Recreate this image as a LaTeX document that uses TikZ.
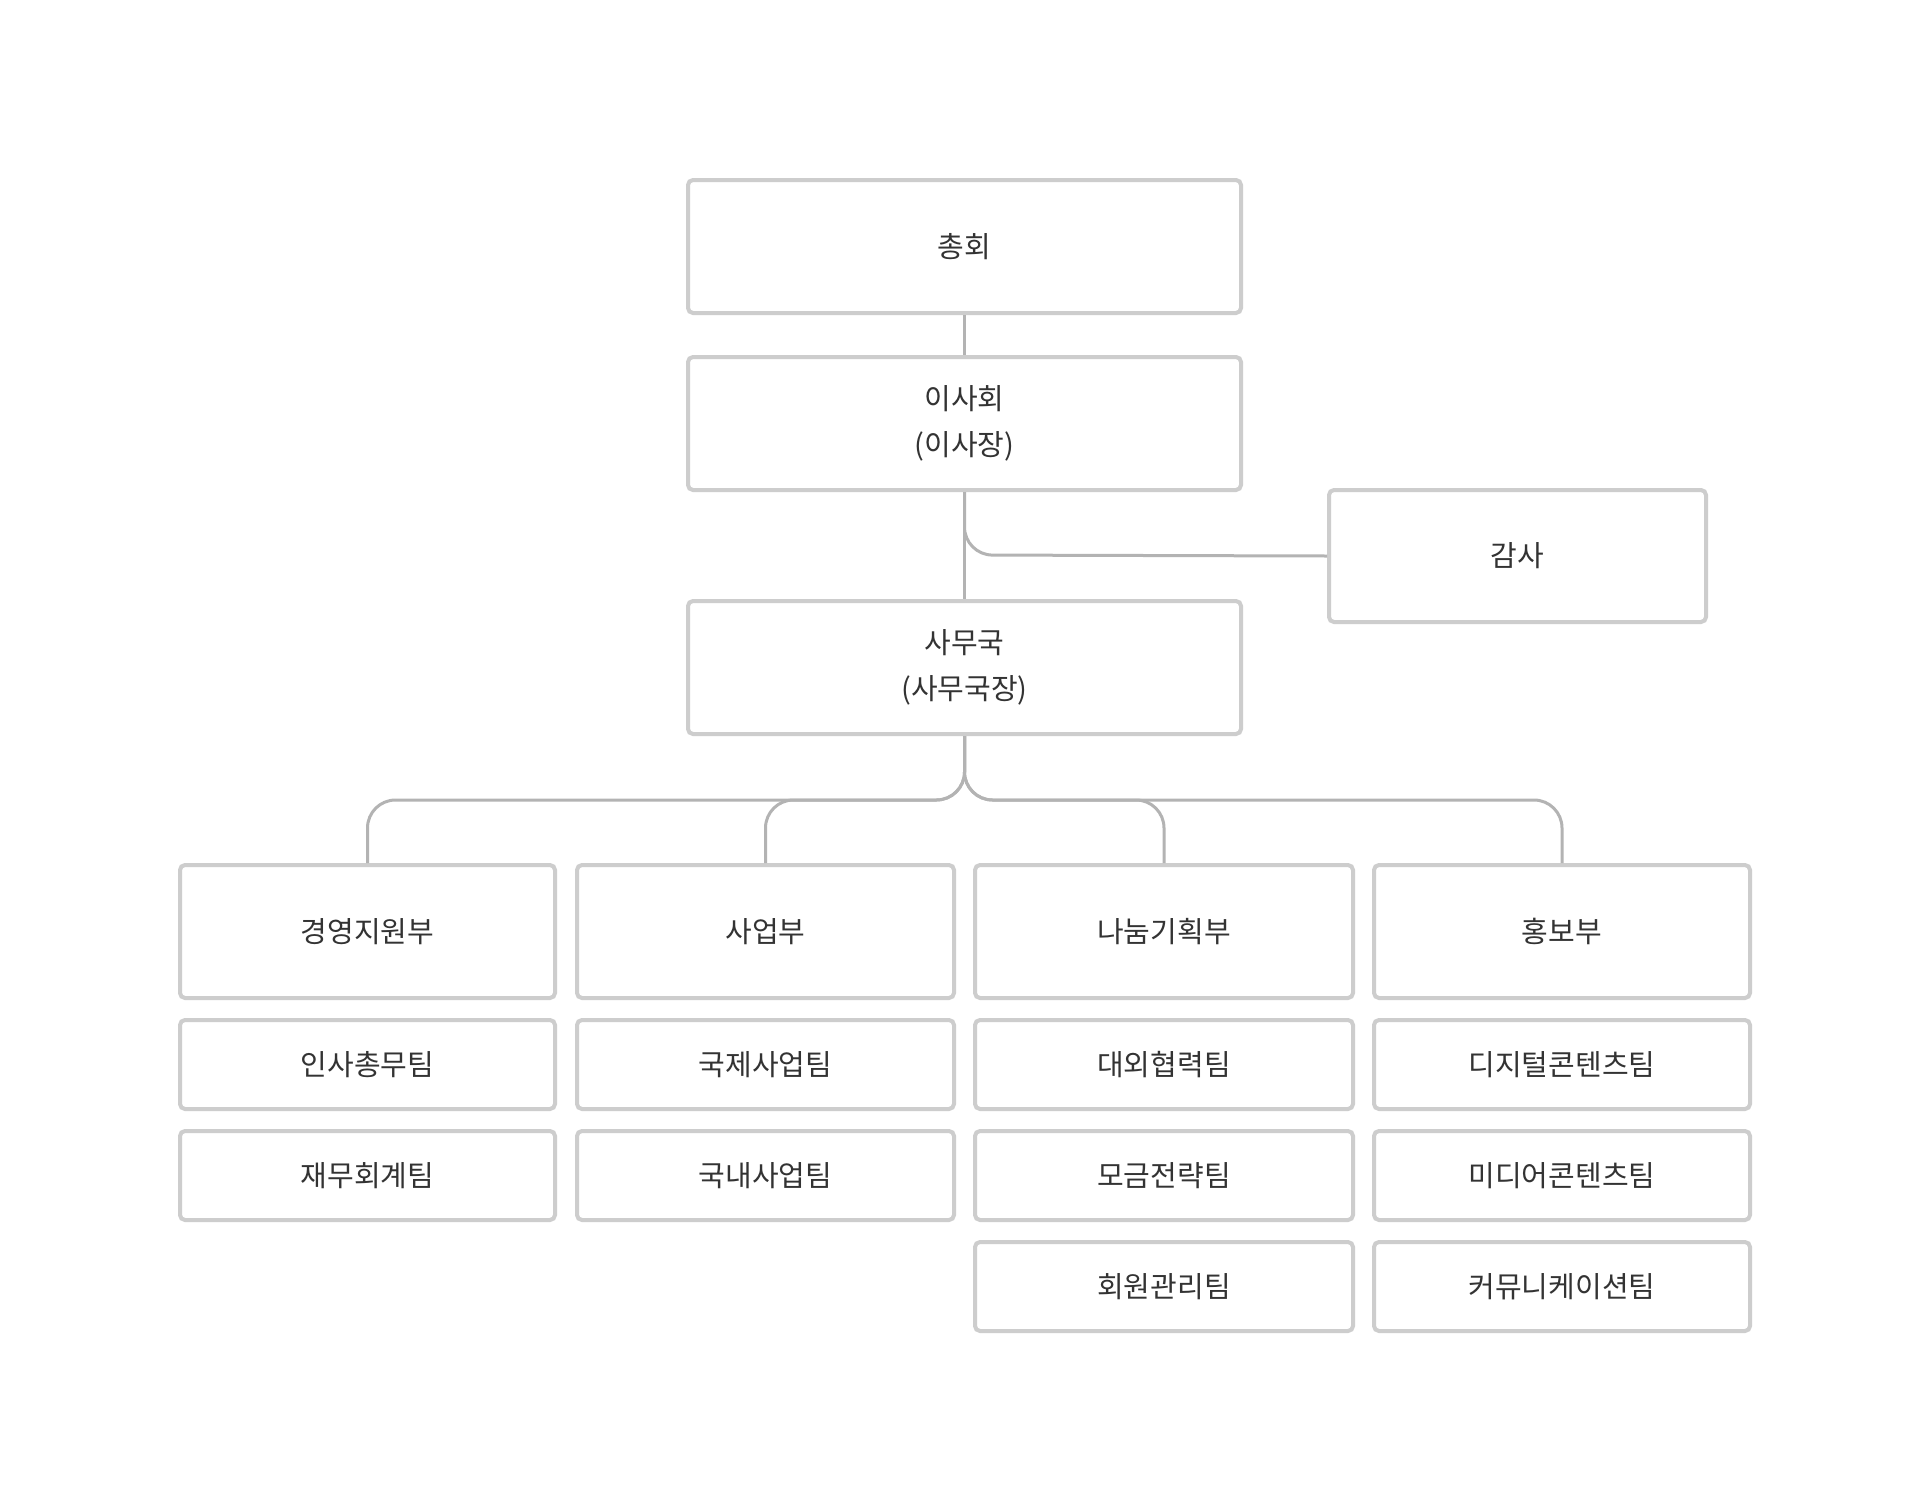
\documentclass[tikz,border=0pt]{standalone}
\usepackage{fontspec}
\setmainfont{Noto Sans CJK KR}
\begin{document}
\begin{tikzpicture}[x=1pt,y=-1pt,
  box/.style={draw=boxgray,line width=4pt,rounded corners=5pt,fill=white,inner sep=0pt,text=txt,font=\fontsize{29}{46}\selectfont,align=center},
  conn/.style={draw=lngray,line width=3pt,rounded corners=28pt}]
\definecolor{boxgray}{HTML}{CDCDCD}
\definecolor{lngray}{HTML}{B3B3B3}
\definecolor{txt}{HTML}{333333}
\useasboundingbox (0,0) rectangle (1920,1502);
\fill[white] (0,0) rectangle (1920,1502);
\newcommand{\bx}[6]{\node[box,minimum width=#4-#2,minimum height=#5-#3] (#1) at ({(#2+#4)/2},{(#3+#5)/2}) {#6};}
\bx{a}{688}{180}{1241}{313}{총회}
\bx{b}{688}{357}{1241}{490}{이사회\\(이사장)}
\bx{g}{1329}{490}{1706}{622}{감사}
\bx{c}{688}{601}{1241}{734}{사무국\\(사무국장)}
\bx{d1}{180}{865}{555}{998}{경영지원부}
\bx{d2}{577}{865}{954}{998}{사업부}
\bx{d3}{975}{865}{1353}{998}{나눔기획부}
\bx{d4}{1374}{865}{1750}{998}{홍보부}
\bx{t11}{180}{1020}{555}{1109}{인사총무팀}
\bx{t12}{180}{1131}{555}{1220}{재무회계팀}
\bx{t21}{577}{1020}{954}{1109}{국제사업팀}
\bx{t22}{577}{1131}{954}{1220}{국내사업팀}
\bx{t31}{975}{1020}{1353}{1109}{대외협력팀}
\bx{t32}{975}{1131}{1353}{1220}{모금전략팀}
\bx{t33}{975}{1242}{1353}{1331}{회원관리팀}
\bx{t41}{1374}{1020}{1750}{1109}{디지털콘텐츠팀}
\bx{t42}{1374}{1131}{1750}{1220}{미디어콘텐츠팀}
\bx{t43}{1374}{1242}{1750}{1331}{커뮤니케이션팀}
\coordinate (h) at (0,800);
\coordinate (hg) at (0,555);
\draw[conn,rounded corners=0pt] (a.south) -- (b.north);
\draw[conn,rounded corners=0pt] (b.south) -- (c.north);
\draw[conn] (b.south) -- (b.south |- hg) -- (g.west);
\foreach \d in {d1,d2,d3,d4}{
  \draw[conn] (c.south) -- (c.south |- h) -- (\d.north |- h) -- (\d.north);
}
\end{tikzpicture}
\end{document}
